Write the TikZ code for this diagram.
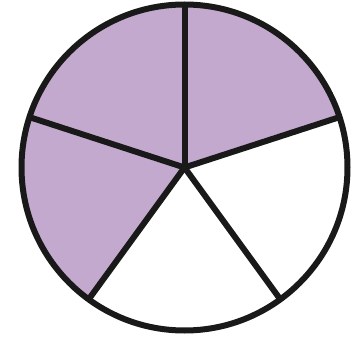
\documentclass[tikz,border=0pt]{standalone}
\definecolor{lav}{HTML}{C4A9CE}
\begin{document}
\begin{tikzpicture}[x=1pt,y=1pt,line join=round,
  edge/.style={draw=black!90,line width=6pt}]
\useasboundingbox (0,0) rectangle (354,338);
\coordinate (c) at (184.5,170.5);
\def\R{163}
\fill[lav] (c) -- ++(18:\R) arc[start angle=18,end angle=234,radius=\R] -- cycle;
\foreach \a in {90,18,-54,-126,162}
  \draw[edge] (c) -- ++(\a:\R);
\draw[edge] (c) circle[radius=\R];
\end{tikzpicture}
\end{document}
